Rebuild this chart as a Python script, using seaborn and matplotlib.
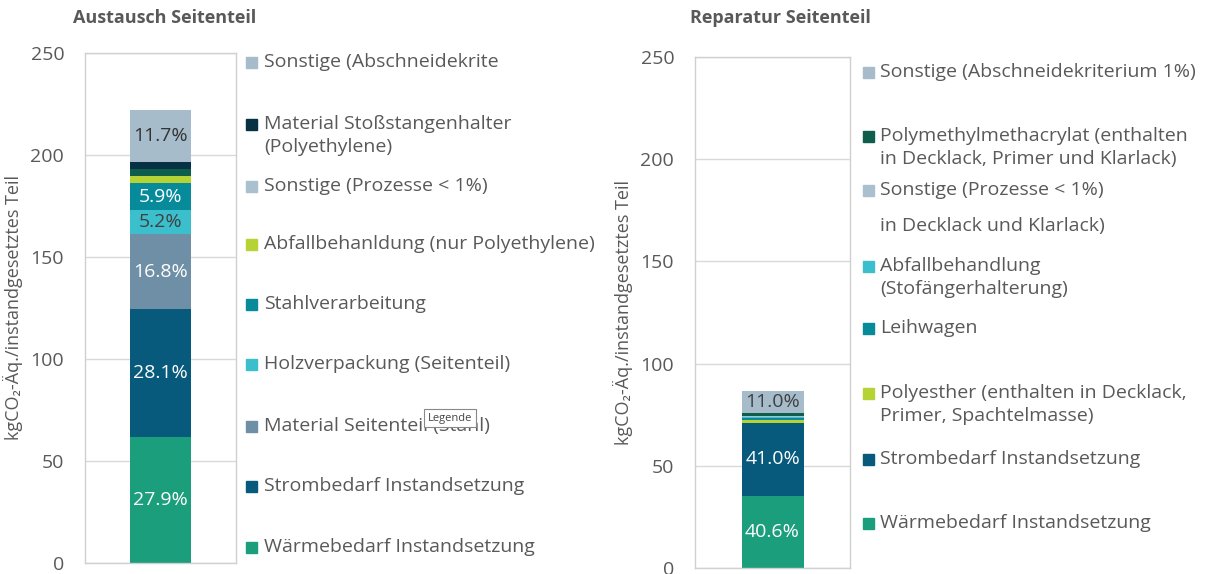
import matplotlib
matplotlib.use('Agg')
import matplotlib.pyplot as plt
from matplotlib.patches import Rectangle
import seaborn as sns

# Data
left_labels = ['Wärmebedarf Instandsetzung',
               'Strombedarf Instandsetzung',
               'Material Seitenteil (Stahl)',
               'Holzverpackung (Seitenteil)',
               'Stahlverarbeitung',
               'Abfallbehanldung (nur Polyethylene)',
               'Sonstige (Prozesse < 1%)',
               'Material Stoßstangenhalter\n(Polyethylene)',
               'Sonstige (Abschneidekrite']
left_values = [62.0, 62.3, 37.0, 11.7, 13.2, 3.6, 3.3, 3.3, 25.8]
left_pct = ['27.9%', '28.1%', '16.8%', '5.2%', '5.9%', '', '', '', '11.7%']

right_labels = ['Wärmebedarf Instandsetzung',
                'Strombedarf Instandsetzung',
                'Polyesther (enthalten in Decklack,\nPrimer, Spachtelmasse)',
                'Leihwagen',
                'Abfallbehandlung\n(Stofängerhalterung)',
                'Sonstige (Prozesse < 1%)',
                'Polymethylmethacrylat (enthalten\nin Decklack, Primer und Klarlack)',
                'Sonstige (Abschneidekriterium 1%)']
right_values = [35.2, 35.8, 1.3, 1.0, 0.8, 0.3, 1.6, 10.5]
right_pct = ['40.6%', '41.0%', '', '', '', '', '', '11.0%']

# Colours
GREEN = '#1a9e7c'
DBLUE = '#075a7c'
GBLUE = '#6e8fa6'
CYAN = '#3cbfcc'
TEAL = '#078a9a'
YELLOW = '#b5d335'
DGREEN = '#0f5e4b'
NAVY = '#073246'
GREY = '#a6bccb'
LGREY = '#abc0cf'

left_colors = [GREEN, DBLUE, GBLUE, CYAN, TEAL, YELLOW, DGREEN, NAVY, GREY]
left_marker_colors = [GREEN, DBLUE, GBLUE, CYAN, TEAL, YELLOW, LGREY, NAVY, GREY]
left_text_colors = ['white', 'white', 'white', '#404040', 'white', 'white', 'white', 'white', '#333333']

right_colors = [GREEN, DBLUE, YELLOW, TEAL, CYAN, LGREY, DGREEN, GREY]
right_marker_colors = [GREEN, DBLUE, YELLOW, TEAL, CYAN, LGREY, DGREEN, GREY]
right_text_colors = ['white', 'white', 'white', 'white', 'white', 'white', 'white', '#404040']

# legend first-line y position (pixels from top)
left_leg_y = [547, 486, 426, 364, 304, 244, 186, 124, 62]
right_leg_y = [523, 459, 393, 328, 266, 190, 136, 72]

sns.set_style('white')
plt.rcParams['font.family'] = ['Open Sans', 'Noto Sans', 'DejaVu Sans']

W, H = 1222, 574
TXT = '#595959'
FS = 14

fig = plt.figure(figsize=(W / 100, H / 100), dpi=100)


def px_axes(x0, y0, x1, y1):
    return fig.add_axes([x0 / W, 1 - y1 / H, (x1 - x0) / W, (y1 - y0) / H])


def draw_panel(ax, values, colors, pct, tcolors, title, title_x):
    bottom = 0
    for v, c, p, tc in zip(values, colors, pct, tcolors):
        sns.barplot(x=[0], y=[v], bottom=bottom, color=c, width=0.4,
                    saturation=1, linewidth=0, ax=ax, native_scale=True)
        if p:
            ax.text(0, bottom + v / 2, p, ha='center', va='center',
                    color=tc, fontsize=FS)
        bottom += v
    ax.set_xlim(-0.5, 0.5)
    ax.set_ylim(0, 250)
    ax.set_yticks(range(0, 251, 50))
    ax.set_xticks([])
    ax.set_xlabel('')
    ax.set_ylabel('kgCO₂-Äq./instandgesetztes Teil', color=TXT, fontsize=13,
                  labelpad=5)
    ax.tick_params(axis='y', length=0, labelsize=FS, labelcolor=TXT, pad=15)
    ax.grid(axis='y', color='#d9d9d9', linewidth=1)
    ax.set_axisbelow(True)
    for s in ax.spines.values():
        s.set_color('#d0d0d0')
        s.set_linewidth(1)
    fig.text(title_x / W, 1 - 18 / H, title, fontsize=13, fontweight='bold',
             color=TXT, va='center')


def draw_legend(labels, mcolors, ys, mx, tx):
    for lab, c, y in zip(labels, mcolors, ys):
        fig.patches.append(Rectangle((mx / W, 1 - (y + 6) / H), 11 / W, 11 / H,
                                     transform=fig.transFigure, color=c))
        for i, line in enumerate(lab.split('\n')):
            fig.text(tx / W, 1 - (y + i * 23) / H, line, fontsize=FS,
                     color=TXT, va='center')


ax1 = px_axes(85, 53, 236, 563)
draw_panel(ax1, left_values, left_colors, left_pct, left_text_colors,
           'Austausch Seitenteil', 73)
draw_legend(left_labels, left_marker_colors, left_leg_y, 246, 264)

ax2 = px_axes(695, 57, 850, 568)
draw_panel(ax2, right_values, right_colors, right_pct, right_text_colors,
           'Reparatur Seitenteil', 690)
draw_legend(right_labels, right_marker_colors, right_leg_y, 863, 880)

# stray text line in the reference legend
fig.text(880 / W, 1 - 226 / H, 'in Decklack und Klarlack)', fontsize=FS,
         color=TXT, va='center')

# tooltip box over the left legend
fig.text(428 / W, 1 - 418 / H, 'Legende', fontsize=8, color='#444444',
         va='center',
         bbox=dict(facecolor='white', edgecolor='#888888', linewidth=0.8,
                   boxstyle='square,pad=0.35'))

fig.savefig('out.png', dpi=100)
